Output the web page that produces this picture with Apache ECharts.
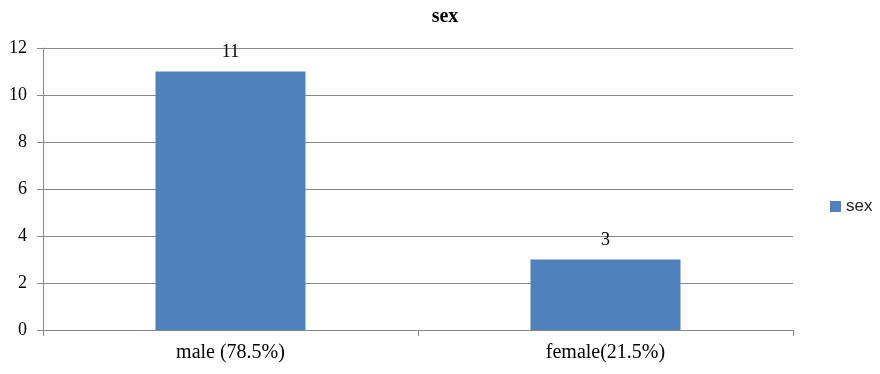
<!DOCTYPE html>
<html><head><meta charset="utf-8">
<script src="https://cdn.jsdelivr.net/npm/echarts@6/dist/echarts.min.js"></script>
<style>html,body{margin:0;padding:0;background:#fff}#c{width:880px;height:374px}</style>
</head><body><div id="c"></div>
<script>
const categories = ['male (78.5%)', 'female(21.5%)'];
const seriesName = 'sex';
const values = [11, 3];
const titleText = 'sex';

const chart = echarts.init(document.getElementById('c'), null, {renderer: 'canvas'});
chart.setOption({
  animation: false,
  backgroundColor: '#fff',
  title: {
    text: titleText, left: 440, top: 2, textAlign: 'center',
    textStyle: {fontFamily: 'Liberation Serif', fontWeight: 'bold', fontSize: 20, color: '#000'}
  },
  legend: {
    orient: 'vertical', left: 825, top: 193,
    itemWidth: 11, itemHeight: 11, itemGap: 5, icon: 'rect',
    textStyle: {fontFamily: 'Liberation Sans', fontSize: 17, color: '#222'},
    data: [seriesName]
  },
  grid: {left: 43, right: 87, top: 48, bottom: 44, containLabel: false},
  xAxis: {
    type: 'category', data: categories, boundaryGap: true,
    axisLine: {lineStyle: {color: '#888'}},
    axisTick: {show: true, length: 6, lineStyle: {color: '#888'}},
    axisLabel: {fontFamily: 'Liberation Serif', fontSize: 20, color: '#000', margin: 13}
  },
  yAxis: {
    type: 'value', min: 0, max: 12, interval: 2,
    axisLine: {show: true, lineStyle: {color: '#888'}},
    axisTick: {show: true, length: 6, lineStyle: {color: '#888'}},
    splitLine: {lineStyle: {color: '#888'}},
    axisLabel: {fontFamily: 'Liberation Serif', fontSize: 18, color: '#000', margin: 16}
  },
  series: [{
    name: seriesName, type: 'bar', data: values, barWidth: '40%',
    itemStyle: {color: '#4f81bd'},
    label: {show: true, position: 'top', distance: 10, fontFamily: 'Liberation Serif', fontSize: 18, color: '#000'}
  }]
});
</script></body></html>
